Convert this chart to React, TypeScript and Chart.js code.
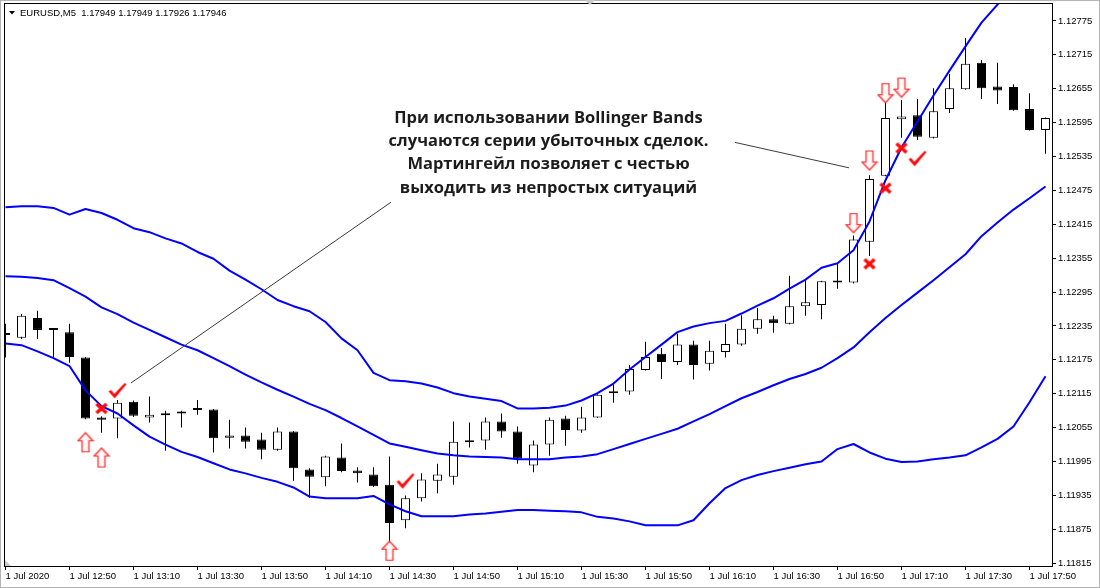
import React, { useEffect, useRef } from "react";
import { Chart, registerables } from "chart.js";

Chart.register(...registerables);

// ---- Candle data (EURUSD M5, 1 Jul 2020, 12:30 .. 17:55) ----
const opens = [
  1.12221, 1.12214, 1.12249, 1.1223, 1.12224, 1.12179, 1.12073, 1.12071, 1.12101, 1.12073,
  1.12079, 1.1208, 1.12088, 1.12087, 1.12037, 1.12041, 1.12034, 1.12016, 1.12048, 1.11981,
  1.11967, 1.12002, 1.11979, 1.11972, 1.11954, 1.11891, 1.1193, 1.11961, 1.11968, 1.12031,
  1.12032, 1.12066, 1.12048, 1.11988, 1.12025, 1.12071, 1.1205, 1.12073, 1.12118, 1.12119,
  1.12157, 1.12186, 1.12171, 1.12202, 1.12168, 1.12189, 1.12202, 1.1223, 1.12247, 1.12239,
  1.1227, 1.12272, 1.12315, 1.12312, 1.12384, 1.12501, 1.12601, 1.12608, 1.12568, 1.12619,
  1.12654, 1.12701, 1.12659, 1.12658, 1.12619, 1.12582,
];
const highs = [
  1.12239, 1.12256, 1.12262, 1.12231, 1.12239, 1.1218, 1.12075, 1.12104, 1.12103, 1.1211,
  1.12085, 1.12085, 1.12104, 1.12088, 1.12069, 1.12055, 1.12046, 1.12055, 1.12049, 1.11983,
  1.12005, 1.12027, 1.11985, 1.11985, 1.12004, 1.11935, 1.11974, 1.11991, 1.12066, 1.12064,
  1.12073, 1.1208, 1.12057, 1.12032, 1.12073, 1.12076, 1.12092, 1.12114, 1.12133, 1.12166,
  1.12207, 1.12196, 1.12221, 1.12209, 1.12209, 1.12239, 1.12254, 1.12267, 1.12253, 1.12324,
  1.12317, 1.12315, 1.12345, 1.12395, 1.12502, 1.1263, 1.12635, 1.12637, 1.12656, 1.12681,
  1.12745, 1.12706, 1.12701, 1.12663, 1.12647, 1.12604,
];
const lows = [
  1.12179, 1.12212, 1.12212, 1.12177, 1.1217, 1.1207, 1.12046, 1.12036, 1.12074, 1.12064,
  1.12014, 1.12055, 1.12078, 1.12011, 1.12018, 1.12018, 1.11999, 1.12014, 1.11961, 1.11931,
  1.11951, 1.11976, 1.11958, 1.1195, 1.11843, 1.11877, 1.11924, 1.11939, 1.11954, 1.1202,
  1.12016, 1.12037, 1.11991, 1.11976, 1.12005, 1.12023, 1.12046, 1.12072, 1.12099, 1.12113,
  1.12156, 1.12141, 1.12166, 1.1214, 1.12156, 1.12179, 1.122, 1.12221, 1.12223, 1.12238,
  1.12253, 1.12247, 1.12301, 1.1231, 1.12359, 1.125, 1.12568, 1.12564, 1.12567, 1.12612,
  1.12653, 1.12637, 1.12628, 1.12616, 1.12581, 1.1254,
];
const closes = [
  1.12219, 1.12253, 1.12228, 1.12228, 1.1218, 1.12071, 1.12069, 1.12099, 1.12076, 1.12078,
  1.12077, 1.12083, 1.12086, 1.12036, 1.12041, 1.1203, 1.12016, 1.12048, 1.11983, 1.11968,
  1.12004, 1.11978, 1.11974, 1.11951, 1.11886, 1.1193, 1.11963, 1.11972, 1.1203, 1.12029,
  1.12066, 1.12048, 1.12, 1.12025, 1.12069, 1.12051, 1.12073, 1.12113, 1.12116, 1.12159,
  1.1218, 1.12171, 1.12202, 1.12166, 1.12191, 1.12203, 1.1223, 1.12247, 1.1224, 1.1227,
  1.12277, 1.12314, 1.12312, 1.12388, 1.12495, 1.12603, 1.12606, 1.1257, 1.12615, 1.12656,
  1.12699, 1.12656, 1.12652, 1.12617, 1.12582, 1.12603,
];

// ---- Bollinger Bands ----
const upperBand = [
  1.12445, 1.12447, 1.12447, 1.12444, 1.12432, 1.12442, 1.12435, 1.12423, 1.12408, 1.12401,
  1.1239, 1.12381, 1.12366, 1.12354, 1.12333, 1.12317, 1.123, 1.12281, 1.1227, 1.12261,
  1.12242, 1.12213, 1.12192, 1.12152, 1.12139, 1.12137, 1.12133, 1.12126, 1.12116, 1.1211,
  1.12106, 1.12102, 1.12089, 1.12089, 1.1209, 1.12094, 1.12103, 1.12116, 1.12133, 1.12158,
  1.1218, 1.12202, 1.12224, 1.12234, 1.1224, 1.12244, 1.12257, 1.12271, 1.12284, 1.12301,
  1.12317, 1.12338, 1.12346, 1.12369, 1.1242, 1.12493, 1.12551, 1.12597, 1.12643, 1.12687,
  1.1273, 1.12772, 1.12804, 1.12832, 1.12857, 1.12882,
];
const middleBand = [
  1.12323, 1.12322, 1.1232, 1.12316, 1.12302, 1.12287, 1.12268, 1.12256, 1.12241, 1.12228,
  1.12215, 1.12202, 1.12192, 1.12178, 1.12164, 1.12149, 1.12135, 1.12122, 1.1211, 1.12097,
  1.12086, 1.12072, 1.12057, 1.12042, 1.12027, 1.12021, 1.12015, 1.12009, 1.12006, 1.12004,
  1.12003, 1.12002, 1.11999, 1.11999, 1.11999, 1.12002, 1.12004, 1.12008, 1.12017, 1.12026,
  1.12035, 1.12044, 1.12053, 1.12066, 1.12079, 1.12093, 1.12107, 1.12118, 1.1213, 1.12141,
  1.1215, 1.12161, 1.12178, 1.12197, 1.12224, 1.12249, 1.12272, 1.12294, 1.12316, 1.12339,
  1.12362, 1.12394, 1.12418, 1.12441, 1.12461, 1.12482,
];
const lowerBand = [
  1.12204, 1.12201, 1.1219, 1.12178, 1.12164, 1.12121, 1.12093, 1.1208, 1.12059, 1.12039,
  1.12025, 1.12012, 1.12003, 1.11992, 1.11981, 1.11974, 1.11966, 1.11959, 1.11949, 1.11933,
  1.1193, 1.1193, 1.1193, 1.11934, 1.11919, 1.11907, 1.11898, 1.11898, 1.11898, 1.11901,
  1.11903, 1.11906, 1.11909, 1.11909, 1.11908, 1.11907, 1.11905, 1.11897, 1.11894, 1.11889,
  1.11882, 1.11882, 1.11882, 1.11891, 1.11921, 1.11948, 1.11962, 1.11971, 1.11978, 1.11984,
  1.1199, 1.11995, 1.12017, 1.12026, 1.12011, 1.12, 1.11994, 1.11995, 1.11999, 1.12002,
  1.12006, 1.1202, 1.12035, 1.12057, 1.121, 1.12146,
];

// ---- Axis ticks ----
const xTickPositions = [0, 4, 8, 12, 16, 20, 24, 28, 32, 36, 40, 44, 48, 52, 56, 60, 64];
const xTickLabels = [
  "1 Jul 2020", "1 Jul 12:50", "1 Jul 13:10", "1 Jul 13:30", "1 Jul 13:50", "1 Jul 14:10",
  "1 Jul 14:30", "1 Jul 14:50", "1 Jul 15:10", "1 Jul 15:30", "1 Jul 15:50", "1 Jul 16:10",
  "1 Jul 16:30", "1 Jul 16:50", "1 Jul 17:10", "1 Jul 17:30", "1 Jul 17:50",
];
const yTickValues = [
  1.11815, 1.11875, 1.11935, 1.11995, 1.12055, 1.12115, 1.12175, 1.12235, 1.12295,
  1.12355, 1.12415, 1.12475, 1.12535, 1.12595, 1.12655, 1.12715, 1.12775,
];

// ---- Annotation markers (candle index, price) ----
const upArrowPoints = [
  { x: 5, y: 1.12029 },
  { x: 6, y: 1.12002 },
  { x: 24, y: 1.11837 },
];
const downArrowPoints = [
  { x: 53, y: 1.12417 },
  { x: 54, y: 1.12528 },
  { x: 55, y: 1.12647 },
  { x: 56, y: 1.12657 },
];
const crossPoints = [
  { x: 6, y: 1.12089 },
  { x: 54, y: 1.12345 },
  { x: 55, y: 1.12479 },
  { x: 56, y: 1.1255 },
];
const checkPoints = [
  { x: 7, y: 1.1212 },
  { x: 25, y: 1.1196 },
  { x: 57, y: 1.12531 },
];
const pointerLineA = [
  { x: 7.84, y: 1.12134 },
  { x: 24.09, y: 1.12454 },
];
const pointerLineB = [
  { x: 45.59, y: 1.1256 },
  { x: 52.72, y: 1.12515 },
];

const headerText = "EURUSD,M5  1.17949 1.17949 1.17926 1.17946";
const noteLines = [
  "При использовании Bollinger Bands",
  "случаются серии убыточных сделок.",
  "Мартингейл позволяет с честью",
  "выходить из непростых ситуаций",
];

const AXIS_FONT = { family: "'Liberation Sans', Arial, sans-serif", size: 9.5 };

function makeArrow(down: boolean): HTMLCanvasElement {
  const c = document.createElement("canvas");
  c.width = 18;
  c.height = 22;
  const g = c.getContext("2d")!;
  if (down) {
    g.translate(0, 22);
    g.scale(1, -1);
  }
  g.beginPath();
  g.moveTo(9, 1.5);
  g.lineTo(16.5, 9.5);
  g.lineTo(12.5, 9.5);
  g.lineTo(12.5, 20.5);
  g.lineTo(5.5, 20.5);
  g.lineTo(5.5, 9.5);
  g.lineTo(1.5, 9.5);
  g.closePath();
  const grad = g.createLinearGradient(0, 0, 18, 0);
  grad.addColorStop(0, "#ffc4c4");
  grad.addColorStop(0.5, "#ffffff");
  grad.addColorStop(1, "#ffc4c4");
  g.fillStyle = grad;
  g.fill();
  g.strokeStyle = "#ff2a2a";
  g.lineWidth = 1.2;
  g.stroke();
  return c;
}

function makeCross(): HTMLCanvasElement {
  const c = document.createElement("canvas");
  c.width = 14;
  c.height = 13;
  const g = c.getContext("2d")!;
  g.strokeStyle = "#ff0a0a";
  g.lineWidth = 3.4;
  g.lineCap = "butt";
  g.beginPath();
  g.moveTo(2, 2);
  g.lineTo(12, 11);
  g.moveTo(12, 2);
  g.lineTo(2, 11);
  g.stroke();
  return c;
}

function makeCheck(): HTMLCanvasElement {
  const c = document.createElement("canvas");
  c.width = 20;
  c.height = 18;
  const g = c.getContext("2d")!;
  g.fillStyle = "#ff0a0a";
  g.beginPath();
  g.moveTo(1, 9.5);
  g.lineTo(3.5, 8);
  g.lineTo(6.8, 12);
  g.lineTo(17.2, 1);
  g.lineTo(19, 2.2);
  g.lineTo(7.2, 16.5);
  g.closePath();
  g.fill();
  return c;
}

const decorPlugin = {
  id: "decor",
  beforeDraw(chart: any) {
    const ctx = chart.ctx;
    ctx.save();
    ctx.fillStyle = "#ffffff";
    ctx.fillRect(0, 0, chart.width, chart.height);
    ctx.restore();
  },
  afterDraw(chart: any) {
    const ctx = chart.ctx;
    const a = chart.chartArea;
    ctx.save();
    // plot frame
    ctx.strokeStyle = "#000000";
    ctx.lineWidth = 1;
    ctx.strokeRect(a.left - 0.5, a.top - 0.5, a.right - a.left + 1, a.bottom - a.top + 1);
    // outer window border
    ctx.strokeStyle = "#b4b4b4";
    ctx.strokeRect(0.5, 0.5, chart.width - 1, chart.height - 1);
    // small grey markers
    ctx.fillStyle = "#c8c8c8";
    ctx.beginPath();
    ctx.moveTo(a.left, a.bottom - 6);
    ctx.lineTo(a.left, a.bottom);
    ctx.lineTo(a.left + 6, a.bottom);
    ctx.closePath();
    ctx.fill();
    ctx.beginPath();
    ctx.moveTo(585, 0);
    ctx.lineTo(595, 0);
    ctx.lineTo(590, 5);
    ctx.closePath();
    ctx.fill();
    // header
    ctx.fillStyle = "#000000";
    ctx.beginPath();
    ctx.moveTo(9, 11);
    ctx.lineTo(15, 11);
    ctx.lineTo(12, 14.5);
    ctx.closePath();
    ctx.fill();
    ctx.font = "9.5px 'Liberation Sans', Arial, sans-serif";
    ctx.textBaseline = "middle";
    ctx.textAlign = "left";
    ctx.fillText(headerText, 20, 13);
    // note text
    ctx.fillStyle = "#1c1c1c";
    ctx.font = "bold 16.5px 'Open Sans', Roboto, sans-serif";
    ctx.textAlign = "center";
    ctx.textBaseline = "alphabetic";
    const baselines = [122.5, 146, 169.3, 192.6];
    noteLines.forEach((t, i) => ctx.fillText(t, 548.5, baselines[i]));
    ctx.restore();
  },
};

export default function App() {
  const ref = useRef<HTMLCanvasElement>(null);

  useEffect(() => {
    document.body.style.margin = "0";
    const idx = opens.map((_, i) => i);
    const wickData = idx.map((i) => ({ x: i, y: [lows[i], highs[i]] }));
    const bodyData = idx.map((i) => ({ x: i, y: [opens[i], closes[i]] }));
    const bodyColors = idx.map((i) => (closes[i] > opens[i] ? "#ffffff" : "#000000"));
    const band = (arr: number[]) => arr.map((v, i) => ({ x: i, y: v }));

    const upArrow = makeArrow(false);
    const downArrow = makeArrow(true);
    const cross = makeCross();
    const check = makeCheck();

    const marker = (data: any[], style: HTMLCanvasElement) => ({
      type: "scatter" as const,
      data,
      pointStyle: style,
      pointRadius: 8,
      showLine: false,
      order: 0,
      clip: false as any,
    });

    const chart = new Chart(ref.current!, {
      type: "bar",
      data: {
        datasets: [
          marker(upArrowPoints, upArrow),
          marker(downArrowPoints, downArrow),
          marker(crossPoints, cross),
          marker(checkPoints, check),
          {
            type: "line",
            data: pointerLineA,
            borderColor: "#3c3c3c",
            borderWidth: 1,
            pointRadius: 0,
            order: 1,
          } as any,
          {
            type: "line",
            data: pointerLineB,
            borderColor: "#3c3c3c",
            borderWidth: 1,
            pointRadius: 0,
            order: 1,
          } as any,
          ...[upperBand, middleBand, lowerBand].map(
            (arr) =>
              ({
                type: "line",
                data: band(arr),
                borderColor: "#0000ff",
                borderWidth: 2,
                pointRadius: 0,
                borderJoinStyle: "round",
                order: 2,
              } as any)
          ),
          {
            type: "bar",
            data: bodyData as any,
            backgroundColor: bodyColors,
            borderColor: "#000000",
            borderWidth: 1,
            borderSkipped: false,
            barThickness: 9,
            minBarLength: 2,
            grouped: false,
            inflateAmount: 0,
            order: 3,
          } as any,
          {
            type: "bar",
            data: wickData as any,
            backgroundColor: "#000000",
            borderWidth: 0,
            barThickness: 1,
            grouped: false,
            inflateAmount: 0,
            order: 4,
          } as any,
        ],
      },
      options: {
        responsive: false,
        animation: false,
        events: [],
        layout: { autoPadding: false, padding: { top: 4, left: 5, right: 0, bottom: 0 } },
        plugins: {
          legend: { display: false },
          tooltip: { enabled: false },
        },
        scales: {
          x: {
            type: "linear",
            min: -0.03125,
            max: 65.40625,
            offset: false,
            grid: {
              display: true,
              drawOnChartArea: false,
              drawTicks: true,
              tickLength: 4,
              color: "#000000",
              offset: false,
            },
            border: { display: false },
            ticks: {
              autoSkip: false,
              maxRotation: 0,
              minRotation: 0,
              align: "start",
              padding: 1,
              color: "#000000",
              font: AXIS_FONT,
              callback: (_v: any, i: number) => xTickLabels[i],
            },
            afterBuildTicks: (s: any) => {
              s.ticks = xTickPositions.map((v) => ({ value: v }));
            },
            afterFit: (s: any) => {
              s.height = 22;
              s.paddingLeft = 0;
              s.paddingRight = 0;
            },
          },
          y: {
            type: "linear",
            position: "right",
            min: 1.1181,
            max: 1.12805,
            grid: {
              display: true,
              drawOnChartArea: false,
              drawTicks: true,
              tickLength: 4,
              color: "#000000",
            },
            border: { display: false },
            ticks: {
              padding: 2,
              color: "#000000",
              font: AXIS_FONT,
              callback: (v: any) => Number(v).toFixed(5),
            },
            afterBuildTicks: (s: any) => {
              s.ticks = yTickValues.map((v) => ({ value: v }));
            },
            afterFit: (s: any) => {
              s.width = 48;
              s.paddingTop = 0;
              s.paddingBottom = 0;
            },
          },
        },
      } as any,
      plugins: [decorPlugin],
    });
    return () => chart.destroy();
  }, []);

  return (
    <div style={{ position: "absolute", left: 0, top: 0, width: 1100, height: 588, background: "#fff" }}>
      <canvas ref={ref} width={1100} height={588} style={{ display: "block", width: 1100, height: 588 }} />
    </div>
  );
}
